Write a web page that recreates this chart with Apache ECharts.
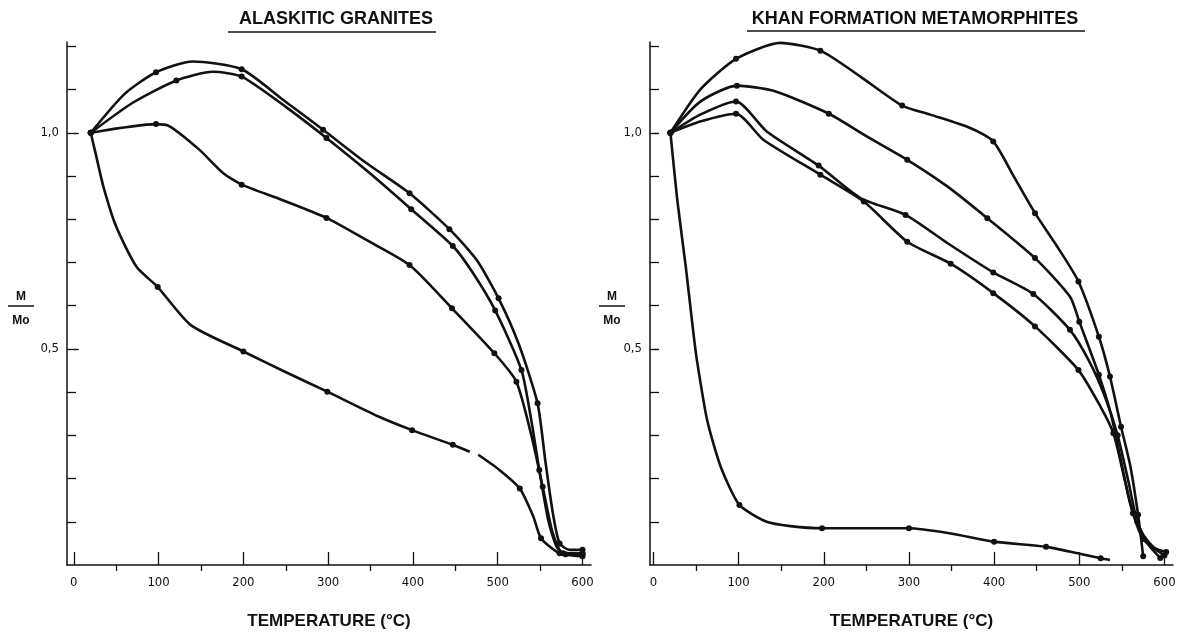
<!DOCTYPE html>
<html>
<head>
<meta charset="utf-8">
<script src="https://cdn.jsdelivr.net/npm/echarts@6/dist/echarts.min.js"></script>
<style>
html,body{margin:0;padding:0;background:#fff;}
#chart{width:1178px;height:633px;}
</style>
</head>
<body>
<div id="chart"></div>
<script>
// ---- data: [temperature °C, M/Mo, measured point (1) or curve shape (0)] ----
const panelTitles = ['ALASKITIC GRANITES', 'KHAN FORMATION METAMORPHITES'];
const xTickLabels = [0, 100, 200, 300, 400, 500, 600];
const xMinorTicks = [50, 150, 250, 350, 450, 550];
const yTicks = [0.1, 0.2, 0.3, 0.4, 0.5, 0.6, 0.7, 0.8, 0.9, 1.0, 1.1, 1.2];
const yTickLabels = [0.5, 1.0];
const xName = 'TEMPERATURE (°C)';
const yNameTop = 'M';
const yNameBottom = 'Mo';

const alaskiticA = [[20,1.0,1],[60,1.09,0],[97,1.14,1],[140,1.165,0],[198,1.147,1],[247,1.076,0],[294,1.007,1],[345,0.93,0],[396,0.86,1],[443,0.777,1],[475,0.706,0],[501,0.617,1],[525,0.51,0],[547,0.374,1],[556,0.243,0],[565,0.12,0],[573,0.05,1],[585,0.035,0],[600,0.035,1]];
const alaskiticB = [[20,1.0,1],[70,1.07,0],[121,1.121,1],[164,1.141,0],[198,1.13,1],[250,1.06,0],[298,0.988,1],[350,0.905,0],[398,0.823,1],[447,0.738,1],[471,0.675,0],[497,0.589,1],[528,0.451,1],[540,0.33,0],[549,0.22,1],[560,0.1,0],[570,0.04,0],[580,0.025,1],[600,0.025,1]];
const alaskiticC = [[20,1.0,1],[97,1.02,1],[113,1.015,0],[148,0.961,0],[176,0.907,0],[198,0.88,1],[245,0.845,0],[298,0.803,1],[345,0.752,0],[396,0.694,1],[446,0.594,1],[496,0.49,1],[522,0.424,1],[541,0.289,0],[553,0.181,1],[565,0.073,0],[577,0.027,1],[600,0.027,1]];
const alaskiticD = [[20,1.0,1],[26,0.95,0],[35,0.875,0],[50,0.783,0],[74,0.69,0],[99,0.643,1],[138,0.555,0],[200,0.494,1],[249,0.447,0],[299,0.401,1],[360,0.343,0],[399,0.312,1],[447,0.278,1],[467,0.262,0],['-','-',0],[477,0.255,0],[502,0.22,0],[526,0.177,1],[542,0.112,0],[551,0.062,1],[573,0.027,1],[600,0.02,1]];

const khanP = [[20,1.0,1],[55,1.10,0],[97,1.171,1],[149,1.208,0],[196,1.19,1],[243,1.13,0],[292,1.063,1],[325,1.042,0],[372,1.011,0],[399,0.98,1],[423,0.899,0],[448,0.814,1],[474,0.737,0],[499,0.656,1],[523,0.528,1],[536,0.436,1],[549,0.32,1],[560,0.228,0],[569,0.116,1],[575,0.02,1]];
const khanQ = [[20,1.0,1],[55,1.072,0],[98,1.109,1],[141,1.097,0],[206,1.044,1],[251,0.991,0],[298,0.9375,1],[345,0.876,0],[392,0.8025,1],[448,0.71,1],[489,0.621,0],[500,0.563,1],[523,0.44,1],[537,0.35,0],[548,0.25,0],[560,0.14,0],[575,0.06,1],[600,0.022,1]];
const khanR = [[20,1.0,1],[55,1.042,0],[97,1.0725,1],[133,1.003,0],[194,0.924,1],[243,0.849,0],[296,0.81,1],[345,0.745,0],[399,0.677,1],[446,0.627,1],[489,0.544,1],[512,0.47,0],[530,0.39,0],[545,0.3,1],[558,0.19,0],[568,0.1,1],[580,0.05,0],[595,0.016,1]];
const khanS = [[20,1.0,1],[55,1.026,0],[97,1.044,1],[129,0.984,0],[196,0.903,1],[247,0.841,1],[298,0.748,1],[349,0.697,1],[399,0.629,1],[448,0.552,1],[499,0.451,1],[525,0.366,0],[540,0.305,1],[553,0.2,0],[563,0.12,1],[575,0.07,0],[588,0.04,0],[602,0.03,1]];
const khanE = [[20,1.0,1],[28,0.845,0],[38,0.69,0],[47,0.536,0],[51,0.475,0],[63,0.336,0],[79,0.2275,0],[101,0.139,1],[133,0.1,0],[161,0.09,0],[198,0.085,1],[250,0.085,0],[300,0.085,1],[349,0.073,0],[400,0.054,1],[461,0.042,1],[498,0.027,0],[525,0.0155,1],[536,0.0116,0]];

const leftCurves = [alaskiticA, alaskiticB, alaskiticC, alaskiticD];
const rightCurves = [khanP, khanQ, khanR, khanS, khanE];

// ---- build ----
const INK = '#111';
const labelFont = "'Liberation Sans Narrow','DejaVu Sans Condensed','Liberation Sans',sans-serif";
const boldFont = "'Liberation Sans','Arial',sans-serif";

function toData(curve) {
  return curve.map(p => p[0] === '-' ? { value: ['-', '-'], symbol: 'none' }
    : { value: [p[0], p[1]], symbol: p[2] ? 'circle' : 'none' });
}

const grids = [
  { left: 67, top: 42, width: 524, height: 523, outerBoundsMode: 'none', containLabel: false },
  { left: 650, top: 42, width: 523, height: 523, outerBoundsMode: 'none', containLabel: false }
];
const xMins = [-8, -4];

const xAxes = [], yAxes = [];
grids.forEach((g, gi) => {
  xAxes.push({
    type: 'value', gridIndex: gi, min: xMins[gi], max: 610,
    name: xName, nameLocation: 'middle', nameGap: 48,
    nameTextStyle: { color: INK, fontSize: 17, fontFamily: boldFont, fontWeight: 'bold' },
    axisLine: { show: true, onZero: false, lineStyle: { color: INK, width: 1.5 } },
    axisTick: { show: true, inside: true, length: 13, customValues: xTickLabels, lineStyle: { color: INK, width: 1.3 } },
    axisLabel: { show: true, customValues: xTickLabels, color: INK, fontSize: 13, fontFamily: labelFont, margin: 11 },
    splitLine: { show: false }
  });
  xAxes.push({
    type: 'value', gridIndex: gi, min: xMins[gi], max: 610,
    axisLine: { show: false },
    axisTick: { show: true, inside: true, length: 6, customValues: xMinorTicks, lineStyle: { color: INK, width: 1.3 } },
    axisLabel: { show: false },
    splitLine: { show: false }
  });
  yAxes.push({
    type: 'value', gridIndex: gi, min: 0, max: 1.21,
    axisLine: { show: true, onZero: false, lineStyle: { color: INK, width: 1.5 } },
    axisTick: { show: true, inside: true, length: 9, customValues: yTicks, lineStyle: { color: INK, width: 1.3 } },
    axisLabel: { show: true, customValues: yTickLabels, color: INK, fontSize: 13, fontFamily: labelFont, margin: 8,
      formatter: v => v.toFixed(1).replace('.', ',') },
    splitLine: { show: false }
  });
  yAxes.push({
    type: 'value', gridIndex: gi, min: 0, max: 1.21,
    axisLine: { show: false },
    axisTick: { show: true, inside: false, length: 5, customValues: yTickLabels, lineStyle: { color: INK, width: 1.3 } },
    axisLabel: { show: false },
    splitLine: { show: false }
  });
});

const series = [];
[leftCurves, rightCurves].forEach((curves, gi) => {
  curves.forEach(c => {
    series.push({
      type: 'line', xAxisIndex: gi * 2, yAxisIndex: gi * 2,
      data: toData(c), smooth: 0.22,
      showAllSymbol: true, symbolSize: 6, clip: false, connectNulls: false,
      lineStyle: { color: INK, width: 2.6 }, itemStyle: { color: INK },
      silent: true
    });
  });
});

const titleCenters = [[336, 19], [915, 19]];
const underlines = [[228, 436, 32], [747, 1085, 31]];
const yNamePos = [21, 612];

const graphic = [];
panelTitles.forEach((t, i) => {
  graphic.push({ type: 'text', x: titleCenters[i][0], y: titleCenters[i][1],
    style: { text: t, fill: INK, font: "bold 18px " + boldFont, textAlign: 'center', textVerticalAlign: 'middle' } });
  graphic.push({ type: 'line', shape: { x1: underlines[i][0], y1: underlines[i][2], x2: underlines[i][1], y2: underlines[i][2] },
    style: { stroke: INK, lineWidth: 1.6 } });
  graphic.push({ type: 'text', x: yNamePos[i], y: 297,
    style: { text: yNameTop, fill: INK, font: "bold 12px " + boldFont, textAlign: 'center', textVerticalAlign: 'middle' } });
  graphic.push({ type: 'line', shape: { x1: yNamePos[i] - 13, y1: 306, x2: yNamePos[i] + 13, y2: 306 },
    style: { stroke: INK, lineWidth: 1.5 } });
  graphic.push({ type: 'text', x: yNamePos[i], y: 321,
    style: { text: yNameBottom, fill: INK, font: "bold 12px " + boldFont, textAlign: 'center', textVerticalAlign: 'middle' } });
});

const chart = echarts.init(document.getElementById('chart'), null, { renderer: 'canvas' });
chart.setOption({
  animation: false,
  backgroundColor: '#fff',
  grid: grids,
  xAxis: xAxes,
  yAxis: yAxes,
  series: series,
  graphic: graphic
});
</script>
</body>
</html>
